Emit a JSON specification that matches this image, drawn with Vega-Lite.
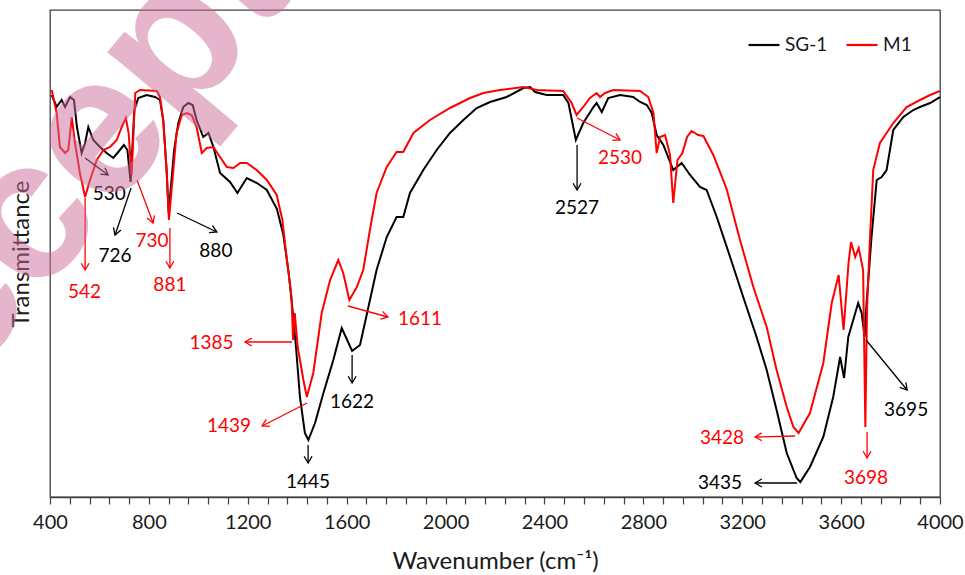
{
  "$schema": "https://vega.github.io/schema/vega-lite/v6.json",
  "width": 890,
  "height": 487,
  "autosize": {"type": "none"},
  "padding": {"left": 50, "top": 10, "right": 25, "bottom": 78},
  "background": "white",
  "config": {
    "font": "Lato",
    "view": {"stroke": "#404040", "strokeWidth": 1.3},
    "axisX": {
      "grid": false, "ticks": true, "tickSize": 7, "tickColor": "#404040", "tickWidth": 1.2,
      "domain": true, "domainColor": "#404040", "domainWidth": 1.3, "labelFontSize": 20, "labelColor": "#1a1a1a",
      "labelPadding": 8, "labelOverlap": false, "labelFlush": false, "labelBound": false,
      "titleFontSize": 24, "titleFontWeight": "normal", "titleColor": "#1a1a1a", "titlePadding": 17
    },
    "axisY": {
      "labels": false, "ticks": false, "domain": false, "grid": false,
      "titleFontSize": 24, "titleFontWeight": "normal", "titleColor": "#1a1a1a", "titlePadding": 17
    }
  },
  "resolve": {"axis": {"x": "independent"}},
  "datasets": {
    "spectra": [
      {"s":"SG-1","wn":407,"t":402},{"s":"SG-1","wn":427,"t":390},{"s":"SG-1","wn":447,"t":397},{"s":"SG-1","wn":461,"t":390},{"s":"SG-1","wn":481,"t":400},{"s":"SG-1","wn":497,"t":397},{"s":"SG-1","wn":509,"t":370},{"s":"SG-1","wn":528,"t":344},{"s":"SG-1","wn":542,"t":354},{"s":"SG-1","wn":555,"t":370},{"s":"SG-1","wn":575,"t":357},{"s":"SG-1","wn":602,"t":350},{"s":"SG-1","wn":629,"t":344},{"s":"SG-1","wn":656,"t":339},{"s":"SG-1","wn":676,"t":345},{"s":"SG-1","wn":699,"t":352},{"s":"SG-1","wn":713,"t":347},{"s":"SG-1","wn":726,"t":315},{"s":"SG-1","wn":741,"t":387},{"s":"SG-1","wn":757,"t":399},{"s":"SG-1","wn":791,"t":402},{"s":"SG-1","wn":825,"t":400},{"s":"SG-1","wn":845,"t":397},{"s":"SG-1","wn":858,"t":377},{"s":"SG-1","wn":871,"t":330},{"s":"SG-1","wn":880,"t":284},{"s":"SG-1","wn":902,"t":347},{"s":"SG-1","wn":919,"t":374},{"s":"SG-1","wn":939,"t":390},{"s":"SG-1","wn":959,"t":394},{"s":"SG-1","wn":977,"t":392},{"s":"SG-1","wn":993,"t":377},{"s":"SG-1","wn":1020,"t":360},{"s":"SG-1","wn":1041,"t":364},{"s":"SG-1","wn":1061,"t":350},{"s":"SG-1","wn":1088,"t":324},{"s":"SG-1","wn":1128,"t":315},{"s":"SG-1","wn":1158,"t":304},{"s":"SG-1","wn":1196,"t":319},{"s":"SG-1","wn":1237,"t":314},{"s":"SG-1","wn":1277,"t":307},{"s":"SG-1","wn":1318,"t":288},{"s":"SG-1","wn":1344,"t":262},{"s":"SG-1","wn":1365,"t":225},{"s":"SG-1","wn":1380,"t":190},{"s":"SG-1","wn":1395,"t":150},{"s":"SG-1","wn":1411,"t":100},{"s":"SG-1","wn":1431,"t":64},{"s":"SG-1","wn":1445,"t":57},{"s":"SG-1","wn":1472,"t":74},{"s":"SG-1","wn":1506,"t":104},{"s":"SG-1","wn":1546,"t":137},{"s":"SG-1","wn":1580,"t":169},{"s":"SG-1","wn":1622,"t":146},{"s":"SG-1","wn":1654,"t":152},{"s":"SG-1","wn":1688,"t":190},{"s":"SG-1","wn":1721,"t":227},{"s":"SG-1","wn":1762,"t":260},{"s":"SG-1","wn":1802,"t":280},{"s":"SG-1","wn":1829,"t":280},{"s":"SG-1","wn":1856,"t":304},{"s":"SG-1","wn":1910,"t":327},{"s":"SG-1","wn":1964,"t":347},{"s":"SG-1","wn":2018,"t":364},{"s":"SG-1","wn":2072,"t":377},{"s":"SG-1","wn":2126,"t":389},{"s":"SG-1","wn":2180,"t":395},{"s":"SG-1","wn":2247,"t":400},{"s":"SG-1","wn":2315,"t":409},{"s":"SG-1","wn":2342,"t":410},{"s":"SG-1","wn":2362,"t":405},{"s":"SG-1","wn":2409,"t":402},{"s":"SG-1","wn":2476,"t":402},{"s":"SG-1","wn":2497,"t":394},{"s":"SG-1","wn":2527,"t":357},{"s":"SG-1","wn":2557,"t":374},{"s":"SG-1","wn":2598,"t":390},{"s":"SG-1","wn":2611,"t":394},{"s":"SG-1","wn":2632,"t":385},{"s":"SG-1","wn":2658,"t":399},{"s":"SG-1","wn":2706,"t":402},{"s":"SG-1","wn":2759,"t":400},{"s":"SG-1","wn":2787,"t":395},{"s":"SG-1","wn":2814,"t":392},{"s":"SG-1","wn":2834,"t":384},{"s":"SG-1","wn":2854,"t":362},{"s":"SG-1","wn":2881,"t":352},{"s":"SG-1","wn":2921,"t":327},{"s":"SG-1","wn":2955,"t":334},{"s":"SG-1","wn":2989,"t":322},{"s":"SG-1","wn":3029,"t":310},{"s":"SG-1","wn":3056,"t":307},{"s":"SG-1","wn":3097,"t":280},{"s":"SG-1","wn":3151,"t":240},{"s":"SG-1","wn":3204,"t":200},{"s":"SG-1","wn":3258,"t":160},{"s":"SG-1","wn":3299,"t":127},{"s":"SG-1","wn":3339,"t":87},{"s":"SG-1","wn":3380,"t":44},{"s":"SG-1","wn":3420,"t":19},{"s":"SG-1","wn":3435,"t":15},{"s":"SG-1","wn":3474,"t":30},{"s":"SG-1","wn":3528,"t":60},{"s":"SG-1","wn":3568,"t":100},{"s":"SG-1","wn":3596,"t":140},{"s":"SG-1","wn":3612,"t":119},{"s":"SG-1","wn":3629,"t":160},{"s":"SG-1","wn":3649,"t":177},{"s":"SG-1","wn":3669,"t":194},{"s":"SG-1","wn":3683,"t":184},{"s":"SG-1","wn":3695,"t":160},{"s":"SG-1","wn":3703,"t":194},{"s":"SG-1","wn":3723,"t":260},{"s":"SG-1","wn":3744,"t":317},{"s":"SG-1","wn":3764,"t":320},{"s":"SG-1","wn":3784,"t":327},{"s":"SG-1","wn":3811,"t":367},{"s":"SG-1","wn":3852,"t":380},{"s":"SG-1","wn":3892,"t":387},{"s":"SG-1","wn":3919,"t":390},{"s":"SG-1","wn":3960,"t":394},{"s":"SG-1","wn":4000,"t":400},
      {"s":"M1","wn":407,"t":407},{"s":"M1","wn":427,"t":384},{"s":"M1","wn":440,"t":350},{"s":"M1","wn":461,"t":344},{"s":"M1","wn":474,"t":347},{"s":"M1","wn":488,"t":380},{"s":"M1","wn":501,"t":354},{"s":"M1","wn":521,"t":324},{"s":"M1","wn":542,"t":300},{"s":"M1","wn":562,"t":317},{"s":"M1","wn":589,"t":337},{"s":"M1","wn":616,"t":347},{"s":"M1","wn":643,"t":350},{"s":"M1","wn":670,"t":357},{"s":"M1","wn":690,"t":370},{"s":"M1","wn":707,"t":379},{"s":"M1","wn":718,"t":364},{"s":"M1","wn":730,"t":322},{"s":"M1","wn":745,"t":404},{"s":"M1","wn":764,"t":407},{"s":"M1","wn":832,"t":406},{"s":"M1","wn":845,"t":400},{"s":"M1","wn":858,"t":377},{"s":"M1","wn":873,"t":320},{"s":"M1","wn":881,"t":277},{"s":"M1","wn":899,"t":327},{"s":"M1","wn":912,"t":364},{"s":"M1","wn":933,"t":382},{"s":"M1","wn":953,"t":384},{"s":"M1","wn":973,"t":382},{"s":"M1","wn":993,"t":370},{"s":"M1","wn":1014,"t":344},{"s":"M1","wn":1034,"t":349},{"s":"M1","wn":1061,"t":350},{"s":"M1","wn":1088,"t":340},{"s":"M1","wn":1115,"t":330},{"s":"M1","wn":1142,"t":329},{"s":"M1","wn":1169,"t":334},{"s":"M1","wn":1196,"t":334},{"s":"M1","wn":1236,"t":327},{"s":"M1","wn":1277,"t":317},{"s":"M1","wn":1317,"t":302},{"s":"M1","wn":1340,"t":277},{"s":"M1","wn":1357,"t":240},{"s":"M1","wn":1377,"t":200},{"s":"M1","wn":1383,"t":157},{"s":"M1","wn":1390,"t":184},{"s":"M1","wn":1402,"t":150},{"s":"M1","wn":1425,"t":117},{"s":"M1","wn":1439,"t":100},{"s":"M1","wn":1465,"t":124},{"s":"M1","wn":1499,"t":184},{"s":"M1","wn":1533,"t":217},{"s":"M1","wn":1566,"t":237},{"s":"M1","wn":1586,"t":224},{"s":"M1","wn":1611,"t":197},{"s":"M1","wn":1641,"t":210},{"s":"M1","wn":1667,"t":227},{"s":"M1","wn":1694,"t":267},{"s":"M1","wn":1721,"t":304},{"s":"M1","wn":1762,"t":330},{"s":"M1","wn":1802,"t":345},{"s":"M1","wn":1829,"t":345},{"s":"M1","wn":1870,"t":364},{"s":"M1","wn":1937,"t":377},{"s":"M1","wn":2018,"t":389},{"s":"M1","wn":2099,"t":399},{"s":"M1","wn":2153,"t":404},{"s":"M1","wn":2220,"t":407},{"s":"M1","wn":2315,"t":410},{"s":"M1","wn":2369,"t":407},{"s":"M1","wn":2476,"t":406},{"s":"M1","wn":2510,"t":394},{"s":"M1","wn":2530,"t":382},{"s":"M1","wn":2557,"t":390},{"s":"M1","wn":2584,"t":399},{"s":"M1","wn":2611,"t":404},{"s":"M1","wn":2625,"t":400},{"s":"M1","wn":2645,"t":404},{"s":"M1","wn":2679,"t":407},{"s":"M1","wn":2787,"t":406},{"s":"M1","wn":2820,"t":400},{"s":"M1","wn":2841,"t":384},{"s":"M1","wn":2854,"t":344},{"s":"M1","wn":2868,"t":360},{"s":"M1","wn":2888,"t":362},{"s":"M1","wn":2908,"t":342},{"s":"M1","wn":2921,"t":294},{"s":"M1","wn":2938,"t":337},{"s":"M1","wn":2958,"t":344},{"s":"M1","wn":2977,"t":360},{"s":"M1","wn":2995,"t":366},{"s":"M1","wn":3022,"t":362},{"s":"M1","wn":3043,"t":361},{"s":"M1","wn":3083,"t":342},{"s":"M1","wn":3137,"t":308},{"s":"M1","wn":3191,"t":257},{"s":"M1","wn":3245,"t":210},{"s":"M1","wn":3299,"t":170},{"s":"M1","wn":3339,"t":127},{"s":"M1","wn":3380,"t":90},{"s":"M1","wn":3407,"t":70},{"s":"M1","wn":3428,"t":64},{"s":"M1","wn":3474,"t":84},{"s":"M1","wn":3528,"t":134},{"s":"M1","wn":3562,"t":194},{"s":"M1","wn":3590,"t":222},{"s":"M1","wn":3610,"t":167},{"s":"M1","wn":3630,"t":234},{"s":"M1","wn":3640,"t":255},{"s":"M1","wn":3657,"t":240},{"s":"M1","wn":3671,"t":249},{"s":"M1","wn":3689,"t":227},{"s":"M1","wn":3698,"t":70},{"s":"M1","wn":3705,"t":190},{"s":"M1","wn":3717,"t":260},{"s":"M1","wn":3730,"t":327},{"s":"M1","wn":3757,"t":354},{"s":"M1","wn":3811,"t":374},{"s":"M1","wn":3865,"t":390},{"s":"M1","wn":3919,"t":397},{"s":"M1","wn":3960,"t":402},{"s":"M1","wn":4000,"t":406}
    ],
    "notes": [
      {"s":"M1","x1":542,"y1":299,"x2":542,"y2":227,"label":"542","lx":540,"ly":205},
      {"s":"SG-1","x1":542,"y1":339,"x2":635,"y2":322,"label":"530","lx":640,"ly":303},
      {"s":"SG-1","x1":728,"y1":309,"x2":663,"y2":262,"label":"726","lx":663,"ly":241},
      {"s":"M1","x1":752,"y1":317,"x2":817,"y2":274,"label":"730","lx":813,"ly":256},
      {"s":"M1","x1":885,"y1":269,"x2":885,"y2":229,"label":"881","lx":885,"ly":212},
      {"s":"SG-1","x1":914,"y1":284,"x2":1075,"y2":265,"label":"880","lx":1071,"ly":246},
      {"s":"M1","x1":1379,"y1":155,"x2":1189,"y2":155,"label":"1385","lx":1053,"ly":154},
      {"s":"M1","x1":1440,"y1":94,"x2":1258,"y2":71,"label":"1439","lx":1124,"ly":71},
      {"s":"SG-1","x1":1444,"y1":52,"x2":1444,"y2":34,"label":"1445","lx":1444,"ly":15},
      {"s":"SG-1","x1":1622,"y1":142,"x2":1622,"y2":114,"label":"1622","lx":1622,"ly":95},
      {"s":"M1","x1":1605,"y1":191,"x2":1767,"y2":180,"label":"1611","lx":1897,"ly":178},
      {"s":"SG-1","x1":2532,"y1":352,"x2":2532,"y2":307,"label":"2527","lx":2532,"ly":289},
      {"s":"M1","x1":2532,"y1":379,"x2":2706,"y2":357,"label":"2530","lx":2706,"ly":339},
      {"s":"SG-1","x1":3701,"y1":157,"x2":3867,"y2":107,"label":"3695","lx":3863,"ly":87},
      {"s":"M1","x1":3705,"y1":65,"x2":3705,"y2":39,"label":"3698","lx":3701,"ly":19},
      {"s":"M1","x1":3414,"y1":61,"x2":3252,"y2":60,"label":"3428","lx":3118,"ly":59},
      {"s":"SG-1","x1":3422,"y1":14,"x2":3252,"y2":14,"label":"3435","lx":3110,"ly":14}
    ],
    "mark": [{"w":"Accepted","x":851,"y":345}]
  },
  "layer": [
    {
      "data": {"name": "spectra"},
      "mark": {"type": "line", "strokeWidth": 2, "clip": true},
      "encoding": {
        "x": {"field": "wn", "type": "quantitative", "title": "Wavenumber (cm⁻¹)",
          "scale": {"domain": [400, 4000], "nice": false, "zero": false},
          "axis": {
            "orient": "bottom",
            "values": [400,800,1200,1600,2000,2400,2800,3200,3600,4000],
            "format": "d", "labelOverlap": false
          }
        },
        "y": {"field": "t", "type": "quantitative", "title": "Transmittance",
          "scale": {"domain": [0, 487], "nice": false, "zero": false}
        },
        "color": {"field": "s", "type": "nominal",
          "scale": {"domain": ["SG-1", "M1"], "range": ["#000000", "#ff0000"]},
          "legend": {"title": null, "orient": "none", "legendX": 697, "legendY": 18, "direction": "horizontal",
            "symbolType": "stroke", "symbolSize": 961, "symbolStrokeWidth": 2.2, "labelFontSize": 19,
            "labelColor": "#1a1a1a", "columnPadding": 14, "labelOffset": 4}
        }
      }
    },
    {
      "data": {"name": "notes"},
      "mark": {"type": "rule", "strokeWidth": 1.3},
      "encoding": {
        "x": {"field": "x1", "type": "quantitative", "title": null,
          "axis": {"orient": "bottom", "labels": false, "domain": false, "title": null,
            "values": [480,560,640,720,880,960,1040,1120,1280,1360,1440,1520,1680,1760,1840,1920,2080,2160,2240,2320,2480,2560,2640,2720,2880,2960,3040,3120,3280,3360,3440,3520,3680,3760,3840,3920]}},
        "y": {"field": "y1", "type": "quantitative", "title": "Transmittance"},
        "x2": {"field": "x2"},
        "y2": {"field": "y2"},
        "color": {"field": "s", "type": "nominal", "legend": null}
      }
    },
    {
      "data": {"name": "notes"},
      "transform": [
        {"calculate": "atan2(-(datum.x2 - datum.x1) * 890 / 3600, -(datum.y2 - datum.y1)) * 180 / PI", "as": "ang"}
      ],
      "mark": {"type": "point", "shape": "M-0.5,-0.85L0,0L0.5,-0.85", "size": 250, "filled": false, "strokeWidth": 1.3, "opacity": 1},
      "encoding": {
        "x": {"field": "x2", "type": "quantitative", "axis": null},
        "y": {"field": "y2", "type": "quantitative", "title": "Transmittance"},
        "angle": {"field": "ang", "type": "quantitative", "scale": null},
        "color": {"field": "s", "type": "nominal", "legend": null}
      }
    },
    {
      "data": {"name": "notes"},
      "mark": {"type": "text", "fontSize": 19, "align": "center", "baseline": "middle"},
      "encoding": {
        "x": {"field": "lx", "type": "quantitative", "axis": null},
        "y": {"field": "ly", "type": "quantitative", "title": "Transmittance"},
        "text": {"field": "label"},
        "color": {"field": "s", "type": "nominal", "legend": null}
      }
    },
    {
      "data": {"name": "mark"},
      "mark": {"type": "text", "font": "Liberation Sans", "fontWeight": "bold", "fontSize": 200, "angle": -50,
        "align": "center", "baseline": "alphabetic", "color": "#cd6d9b", "opacity": 0.5},
      "encoding": {
        "x": {"field": "x", "type": "quantitative", "axis": null},
        "y": {"field": "y", "type": "quantitative", "title": "Transmittance"},
        "text": {"field": "w"}
      }
    }
  ]
}
